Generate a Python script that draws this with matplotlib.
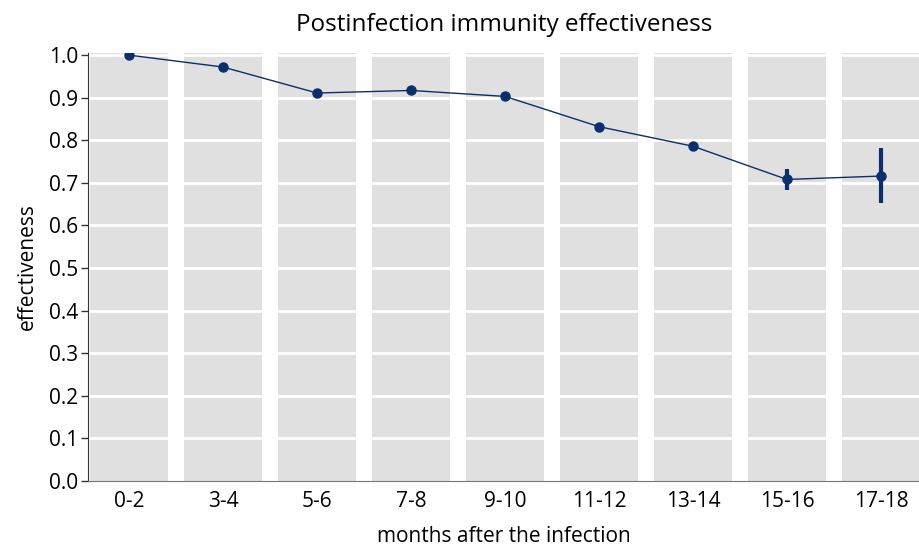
import matplotlib
matplotlib.use("Agg")
import matplotlib.pyplot as plt
import numpy as np

categories = ["0-2", "3-4", "5-6", "7-8", "9-10", "11-12", "13-14", "15-16", "17-18"]
effectiveness = [1.0, 0.972, 0.911, 0.917, 0.903, 0.832, 0.786, 0.708, 0.716]
lower = [0.998, 0.968, 0.907, 0.913, 0.899, 0.825, 0.775, 0.684, 0.652]
upper = [1.002, 0.976, 0.915, 0.921, 0.907, 0.839, 0.797, 0.732, 0.781]

plt.rcParams['font.family'] = ['Open Sans', 'DejaVu Sans']
fig = plt.figure(figsize=(9.2, 5.49), dpi=100)
ax = fig.add_axes([0.0957, 0.1239, 0.9043, 0.7796])

x = np.arange(len(categories))
navy = "#0b2f6b"
for xi in x:
    ax.axvspan(xi - 0.41, xi + 0.41, color="#e0e0e0", zorder=0, lw=0)
for yv in np.arange(0.1, 1.01, 0.1):
    ax.axhline(yv, color="white", lw=2, zorder=1)

eff = np.array(effectiveness)
yerr = [eff - np.array(lower), np.array(upper) - eff]
ax.plot(x, eff, color=navy, lw=1, zorder=3)
ax.errorbar(x, eff, yerr=yerr, fmt="none", ecolor=navy, elinewidth=3, capsize=0, zorder=4)
ax.plot(x, eff, "o", color=navy, ms=6.5, zorder=5)

ax.set_xlim(-0.436, 8.415)
ax.set_ylim(0, 1.005)
ax.set_yticks(np.arange(0, 1.01, 0.1))
ax.set_yticklabels([f"{v:.1f}" for v in np.arange(0, 1.01, 0.1)], fontsize=15)
ax.set_xticks(x)
ax.set_xticklabels(categories, fontsize=15)
ax.tick_params(axis="x", length=0, pad=7)
ax.tick_params(axis="y", length=5, width=1, color="#333333", pad=2)
for s in ["top", "right"]:
    ax.spines[s].set_visible(False)
ax.spines["left"].set_color("#333333")
ax.spines["bottom"].set_color("#777777")
ax.set_xlabel("months after the infection", fontsize=15, labelpad=10)
ax.set_ylabel("effectiveness", fontsize=15, labelpad=8)
ax.set_title("Postinfection immunity effectiveness", fontsize=17.5, pad=16)

fig.savefig("out.png", dpi=100)
